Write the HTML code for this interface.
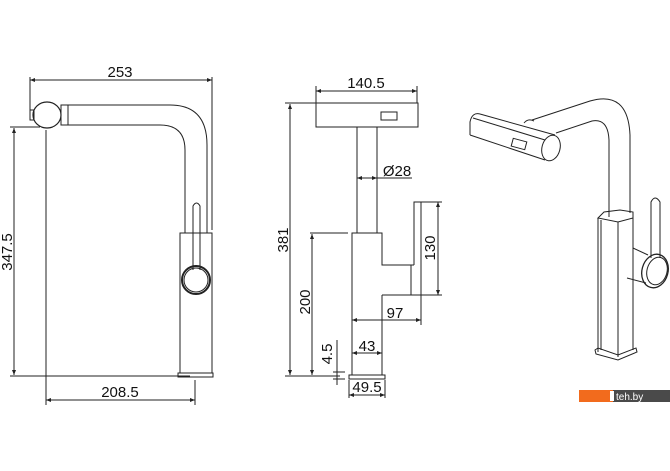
<!DOCTYPE html>
<html><head><meta charset="utf-8"><style>
html,body{margin:0;padding:0;background:#fff;}
svg{display:block;}
text{font-family:"Liberation Sans",sans-serif;font-size:15px;fill:#111;}
</style></head><body>
<svg width="670" height="471" viewBox="0 0 670 471" xmlns="http://www.w3.org/2000/svg">
<defs>
<marker id="a" viewBox="0 0 10 10" refX="10" refY="5" markerWidth="7" markerHeight="5" orient="auto-start-reverse"><path d="M0,1 L10,5 L0,9 z" fill="#222"/></marker>
</defs>
<g stroke="#222" stroke-width="1" fill="none">
<!-- LEFT VIEW -->
<line x1="30" y1="80" x2="212" y2="80" marker-start="url(#a)" marker-end="url(#a)"/>
<line x1="30" y1="77" x2="30" y2="120"/>
<line x1="212" y1="77" x2="212" y2="230"/>
<rect x="30" y="110" width="4" height="10"/>
<ellipse cx="47" cy="115" rx="14" ry="13" stroke-width="1.2"/>
<rect x="61" y="105" width="7" height="20"/>
<path d="M68,105 L170,105 Q207,105 207,145 L207,233"/>
<path d="M68,125 L160,125 Q185,125 185,150 L185,233"/>
<rect x="180" y="233" width="32" height="140"/>
<rect x="178" y="373" width="35" height="4"/>
<path d="M193,270 L193,206 Q196.5,200 200,206 L200,270"/>
<circle cx="196" cy="280" r="14" stroke-width="2"/>
<circle cx="196" cy="280" r="12"/>
<line x1="10" y1="127" x2="40" y2="127"/>
<line x1="10" y1="376" x2="190" y2="376"/>
<line x1="14" y1="128" x2="14" y2="375" marker-start="url(#a)" marker-end="url(#a)"/>
<line x1="46" y1="130" x2="46" y2="405"/>
<line x1="195" y1="380" x2="195" y2="405"/>
<line x1="46" y1="400" x2="195" y2="400" marker-start="url(#a)" marker-end="url(#a)"/>
<!-- MIDDLE VIEW -->
<line x1="316" y1="91" x2="417" y2="91" marker-start="url(#a)" marker-end="url(#a)"/>
<line x1="316" y1="86" x2="316" y2="103"/>
<line x1="417" y1="86" x2="417" y2="103"/>
<rect x="316" y="103" width="102" height="24"/>
<rect x="381" y="112" width="16" height="8"/>
<line x1="357" y1="127" x2="357" y2="233"/>
<line x1="377" y1="127" x2="377" y2="233"/>
<line x1="357" y1="178" x2="377" y2="178" marker-start="url(#a)" marker-end="url(#a)"/>
<line x1="377" y1="178" x2="412" y2="178"/>
<path d="M352,375 L352,233 L382,233 L382,265 L414,265"/>
<path d="M382,295 L382,375"/>
<path d="M414,265 L414,202 L421,202 L421,295 L382,295"/>
<line x1="411" y1="265" x2="411" y2="295"/>
<line x1="421" y1="202" x2="442" y2="202"/>
<line x1="421" y1="295" x2="442" y2="295"/>
<line x1="438" y1="202" x2="438" y2="295" marker-start="url(#a)" marker-end="url(#a)"/>
<line x1="421" y1="295" x2="421" y2="325"/>
<line x1="352" y1="320" x2="421" y2="320" marker-start="url(#a)" marker-end="url(#a)"/>
<line x1="352" y1="353" x2="382" y2="353" marker-start="url(#a)" marker-end="url(#a)"/>
<rect x="349" y="375" width="36" height="4"/>
<line x1="285" y1="103" x2="316" y2="103"/>
<line x1="285" y1="376" x2="340" y2="376"/>
<line x1="290" y1="104" x2="290" y2="375" marker-start="url(#a)" marker-end="url(#a)"/>
<line x1="310" y1="233" x2="348" y2="233"/>
<line x1="312" y1="234" x2="312" y2="375" marker-start="url(#a)" marker-end="url(#a)"/>
<line x1="337" y1="340" x2="337" y2="385"/>
<line x1="333" y1="372" x2="345" y2="372"/>
<line x1="333" y1="379" x2="345" y2="379"/>
<line x1="349" y1="380" x2="349" y2="398"/>
<line x1="385" y1="380" x2="385" y2="398"/>
<line x1="349" y1="395" x2="385" y2="395" marker-start="url(#a)" marker-end="url(#a)"/>
<!-- ISO VIEW -->
<path d="M480,114 L555,135"/>
<path d="M473,118 L545,140"/>
<path d="M470,135 L545,160"/>
<path d="M480,114 Q472,112 470,122 L470,135"/>
<ellipse cx="551" cy="148" rx="9" ry="13" transform="rotate(15 551 148)"/>
<rect x="512" y="140" width="14" height="8" transform="rotate(15 519 144)"/>
<path d="M524,123 Q528,118 534,121"/>
<path d="M532,120 L590,101 Q628,90 630,135 L630,213"/>
<path d="M556,133 L592,121 Q608,118 609,140 L609,217"/>
<path d="M598,218 L604,212 L620,210 L633,212 L633,218 L618,222 Z"/>
<line x1="598" y1="218" x2="598" y2="352"/>
<line x1="618" y1="222" x2="618" y2="357"/>
<line x1="633" y1="218" x2="633" y2="350"/>
<line x1="601" y1="220" x2="601" y2="350"/>
<path d="M595,350 L598,348 L618,355 L636,348 L637,352 L618,360 L596,354 Z"/>
<path d="M651,258 L651,202 Q655,194 660,202 L660,258"/>
<ellipse cx="655" cy="271" rx="13" ry="17" transform="rotate(15 655 271)" stroke-width="1.3"/>
<ellipse cx="657" cy="271" rx="10" ry="14" transform="rotate(15 657 271)"/>
<line x1="633" y1="248" x2="648" y2="255"/>
<line x1="627" y1="278" x2="646" y2="283"/>
</g>
<text x="120" y="77" text-anchor="middle">253</text>
<text x="120" y="397" text-anchor="middle">208.5</text>
<text transform="translate(12,252) rotate(-90)" text-anchor="middle">347.5</text>
<text x="366" y="88" text-anchor="middle">140.5</text>
<text x="397" y="176" text-anchor="middle">Ø28</text>
<text x="395" y="318" text-anchor="middle">97</text>
<text x="367" y="351" text-anchor="middle">43</text>
<text x="367" y="392" text-anchor="middle">49.5</text>
<text transform="translate(288,240) rotate(-90)" text-anchor="middle">381</text>
<text transform="translate(310,302) rotate(-90)" text-anchor="middle">200</text>
<text transform="translate(332,354) rotate(-90)" text-anchor="middle">4.5</text>
<text transform="translate(435,248) rotate(-90)" text-anchor="middle">130</text>
<rect x="579" y="390" width="34" height="12" fill="#f26b1d"/>
<rect x="613" y="390" width="57" height="12" fill="#4a4a4a"/>
<rect x="610" y="391" width="4" height="10" fill="#fff"/>
<text x="616" y="400" style="font-size:10px;fill:#fff">teh.by</text>
</svg>
</body></html>
